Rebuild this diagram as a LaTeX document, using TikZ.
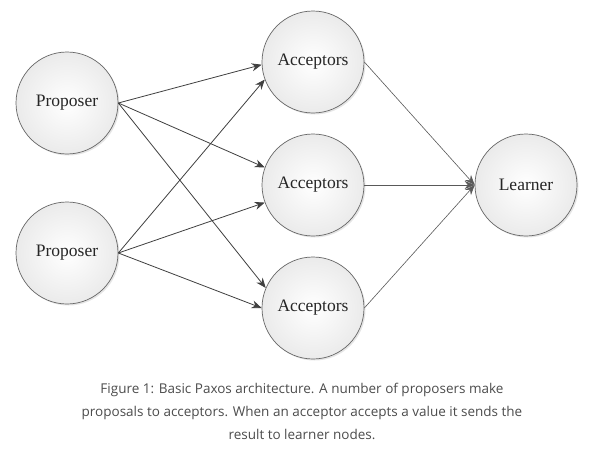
\documentclass[tikz,border=0pt]{standalone}
\usepackage{fontspec}
\setmainfont{Liberation Serif}
\newfontfamily\captionfont{Open Sans}
\usetikzlibrary{positioning,shapes,shadows,arrows.meta}

\tikzset{
    agent/.style={circle, draw=black!60, line width=0.7pt, inner color=white, outer color=black!8,
        minimum size=102pt, inner sep=0pt, font=\fontsize{17.5}{20}\selectfont, text=black!85,
        drop shadow={opacity=0.2, shadow xshift=1.5pt, shadow yshift=-1.5pt}},
    propose/.style={-{Stealth[length=10pt,width=8pt]}, draw=black!75, line width=0.8pt},
    learn/.style={-{Stealth[length=10pt,width=8pt]}, draw=black!65, line width=0.6pt},
}

\begin{document}
\begin{tikzpicture}[x=1pt, y=-1pt]
    \useasboundingbox[fill=white] (0,0) rectangle (603,455);

    \node[agent] (proposerA) at (67,103) {Proposer};
    \node[agent] (proposerB) at (67,253) {Proposer};

    \node[agent] (acceptorA) at (313,62) {Acceptors};
    \node[agent] (acceptorB) at (313,185) {Acceptors};
    \node[agent] (acceptorC) at (313,308) {Acceptors};

    \node[agent] (learner) at (526,185) {Learner};

    \draw[propose] (proposerA.east) -- (acceptorA.183);
    \draw[propose] (proposerA.east) -- (acceptorB.160);
    \draw[propose] (proposerA.east) -- (acceptorC.157);
    \draw[propose] (proposerB.east) -- (acceptorA.200);
    \draw[propose] (proposerB.east) -- (acceptorB.200);
    \draw[propose] (proposerB.east) -- (acceptorC.180);

    \draw[learn] (acceptorA.east) -- (learner.west);
    \draw[learn] (acceptorB.east) -- (learner.west);
    \draw[learn] (acceptorC.east) -- (learner.west);

    \node[align=center, text=black!70, font=\captionfont\fontsize{13.5}{23}\selectfont] (caption) at (302,411)
        {Figure 1: Basic Paxos architecture. A number of proposers make\\
         proposals to acceptors. When an acceptor accepts a value it sends the\\
         result to learner nodes.};
\end{tikzpicture}
\end{document}
